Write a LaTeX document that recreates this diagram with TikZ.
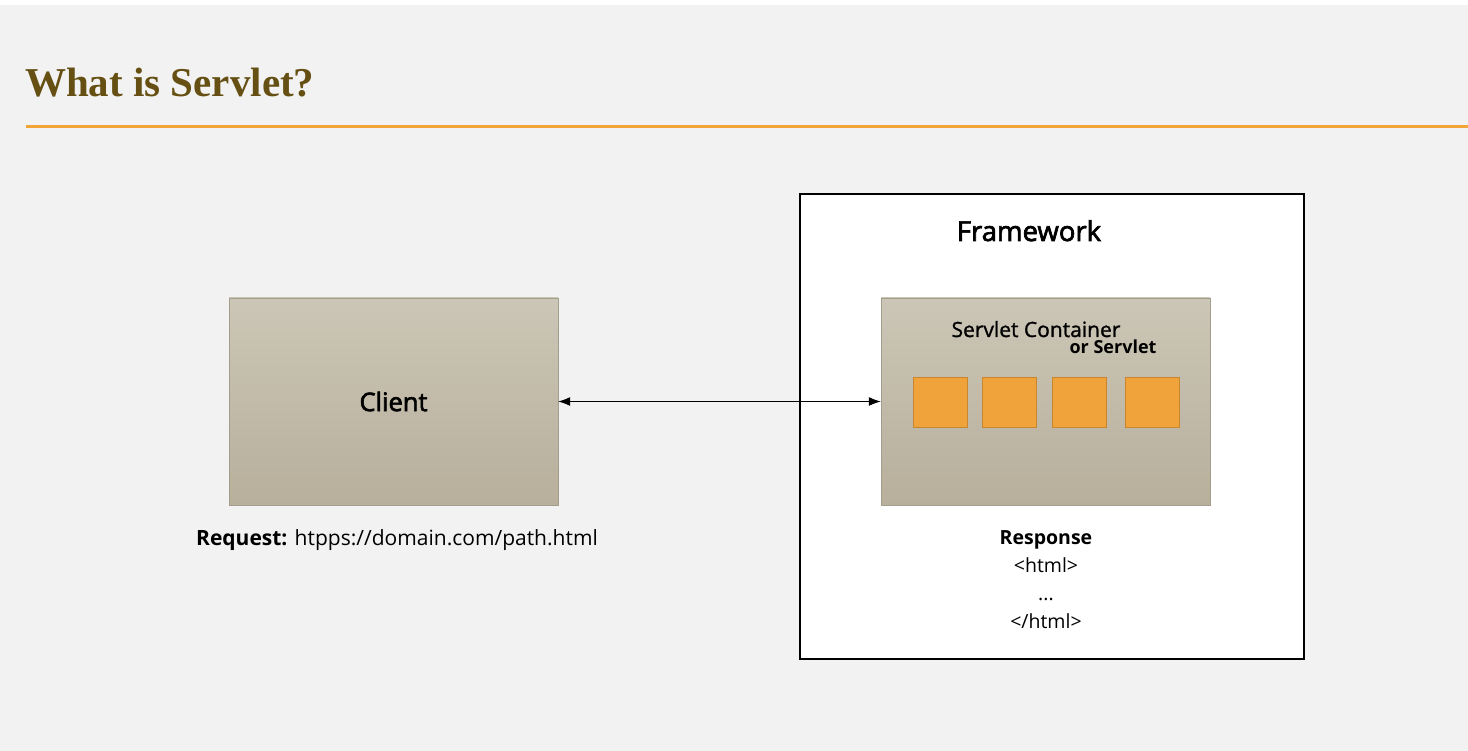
\documentclass[tikz,border=0pt]{standalone}
\usepackage{fontspec}
\usetikzlibrary{arrows.meta}
\setmainfont{Open Sans}
\newfontfamily\semibold[FakeBold=2.5]{Open Sans}
\newfontfamily\medium[FakeBold=1.2]{Open Sans}
\newfontfamily\titlefont{Liberation Serif}

\definecolor{pagebg}{HTML}{F2F2F2}
\definecolor{titlebrown}{HTML}{654F12}
\definecolor{ruleorange}{HTML}{F2A436}
\definecolor{boxtop}{HTML}{CBC6B6}
\definecolor{boxbottom}{HTML}{B8AF9C}
\definecolor{boxline}{HTML}{A39E8C}
\definecolor{servletfill}{HTML}{F0A33A}
\definecolor{servletline}{HTML}{C8872E}

\tikzset{
  greybox/.style={draw=boxline, top color=boxtop, bottom color=boxbottom,
    minimum width=329pt, minimum height=207pt, inner sep=0pt},
  servletbox/.style={draw=servletline, fill=servletfill, line width=0.8pt,
    minimum width=54pt, minimum height=50pt, inner sep=0pt},
  tip/.tip={Latex[length=12pt,width=9pt]},
}

\begin{document}
\begin{tikzpicture}[x=1pt, y=-1pt]
    % Page background with the thin white strip on top
    \fill[pagebg] (0,0) rectangle (1468,751);
    \fill[white] (0,0) rectangle (1468,5);
    \useasboundingbox (0,0) rectangle (1468,751);

    % Title and the orange rule under it
    \node[anchor=base west, inner sep=0pt, text=titlebrown,
      font=\titlefont\bfseries\fontsize{41}{48}\selectfont] (title) at (25,97) {What is Servlet?};
    \draw[ruleorange, line width=3pt] (26,127) -- (1468,127);

    % Client side
    \node[greybox, font=\semibold\fontsize{25.5}{30}\selectfont] (client) at (393.5,401.5) {Client};
    \node[anchor=base, font=\fontsize{21}{24}\selectfont] (request) at (397,545)
      {\textbf{Request:} htpps://domain.com/path.html};

    % Framework with the servlet container inside
    \node[draw, fill=white, line width=1.2pt, minimum width=504pt, minimum height=465pt] (framework) at (1052,426.5) {};
    \node[anchor=base, font=\semibold\fontsize{27.5}{32}\selectfont] (fwlabel) at (1029,241) {Framework};
    \node[greybox] (container) at (1045.5,401.5) {};
    \node[anchor=base, font=\medium\fontsize{21}{24}\selectfont] (containerlabel) at (1036,337) {Servlet Container};
    \node[anchor=base east, font=\bfseries\fontsize{18}{20}\selectfont] (orlabel) at (1160,354) {or Servlet};
    \foreach \x [count=\i] in {940,1009,1079,1152}
      \node[servletbox] (servlet\i) at (\x,402) {};

    \node[align=center, font=\fontsize{19.5}{28}\selectfont] (response) at (1046,580)
      {\textbf{Response}\\<html>\\...\\</html>};

    % Request / response connector
    \draw[tip-tip, line width=1pt] (client) -- (container);
\end{tikzpicture}
\end{document}
